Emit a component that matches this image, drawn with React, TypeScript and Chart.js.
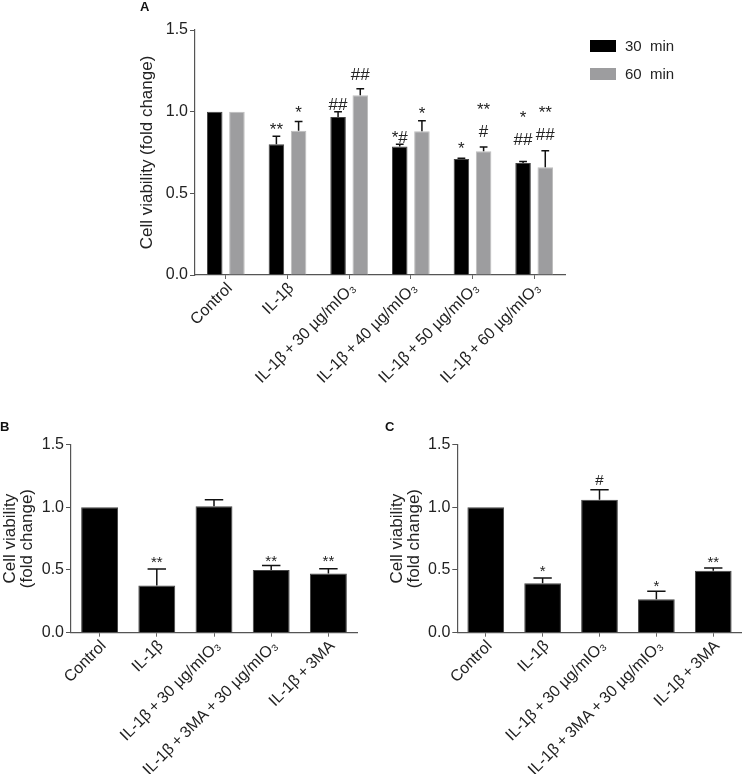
import React, { useEffect, useRef } from 'react';
import { Chart, registerables } from 'chart.js';
Chart.register(...registerables);

const FONT = '"Liberation Sans", Arial, Helvetica, sans-serif';

// ---- Panel A data ----
const catsA = ['Control', 'IL-1β', 'IL-1β\u2009+\u200930 µg/mIO₃', 'IL-1β\u2009+\u200940 µg/mIO₃', 'IL-1β\u2009+\u200950 µg/mIO₃', 'IL-1β\u2009+\u200960 µg/mIO₃'];
const seriesLabelsA = ['30  min', '60  min'];
const a30 = [1.0, 0.8, 0.967, 0.787, 0.71, 0.685];
const a30Err = [0, 0.05, 0.033, 0.013, 0.005, 0.01];
const a30Marks = ['', '**', '##', '*#', '*', '*\n##'];
const a60 = [1.0, 0.883, 1.1, 0.88, 0.757, 0.66];
const a60Err = [0, 0.057, 0.04, 0.065, 0.026, 0.1];
const a60Marks = ['', '*', '##', '*', '**\n#', '**\n##'];

// ---- Panel B data ----
const catsBC = ['Control', 'IL-1β', 'IL-1β\u2009+\u200930 µg/mIO₃', 'IL-1β\u2009+\u20093MA\u2009+\u200930 µg/mIO₃', 'IL-1β\u2009+\u20093MA'];
const bVals = [1.0, 0.376, 1.008, 0.5, 0.472];
const bErr = [0, 0.131, 0.052, 0.036, 0.038];
const bMarks = ['', '**', '', '**', '**'];

// ---- Panel C data ----
const cVals = [1.0, 0.395, 1.06, 0.267, 0.494];
const cErr = [0, 0.04, 0.08, 0.063, 0.021];
const cMarks = ['', '*', '#', '*', '**'];

// y ticks
const yTicks = [0, 0.5, 1.0, 1.5];

// styling: small pixel lifts of significance marks above the error bar tops
const liftA30 = [0, 1, 1.7, 1, 4.5, 16];
const liftA60 = [0, 3, 9, 2, 10, 11];
const liftB = [0, 2.5, 0, -1, 2.5];
const liftC = [0, 2, 5, 0, 1];

function errorMarksPlugin(markFont: number, lineGap: number) {
  return {
    id: 'errorMarks',
    afterDatasetsDraw(chart: any) {
      const ctx = chart.ctx;
      const ys = chart.scales.y;
      chart.data.datasets.forEach((ds: any, i: number) => {
        const meta = chart.getDatasetMeta(i);
        meta.data.forEach((bar: any, j: number) => {
          const v = ds.data[j];
          const e = ds.errors[j];
          const x = bar.x;
          const w = bar.width;
          const yTop = ys.getPixelForValue(v + e);
          if (e > 0) {
            ctx.save();
            ctx.strokeStyle = '#111';
            ctx.lineWidth = 1.5;
            ctx.beginPath();
            ctx.moveTo(x, bar.y);
            ctx.lineTo(x, yTop);
            ctx.moveTo(x - w / 4, yTop);
            ctx.lineTo(x + w / 4, yTop);
            ctx.stroke();
            ctx.restore();
          }
          const mark = ds.marks[j];
          if (mark) {
            ctx.save();
            ctx.fillStyle = '#222';
            ctx.font = `${markFont}px ${FONT}`;
            ctx.textAlign = 'center';
            ctx.textBaseline = 'alphabetic';
            const lines = mark.split('\n');
            let base = yTop - ds.lifts[j];
            for (let k = lines.length - 1; k >= 0; k--) {
              ctx.fillText(lines[k], x, base);
              base -= lineGap;
            }
            ctx.restore();
          }
        });
      });
    },
  };
}

const legendPlugin = {
  id: 'customLegend',
  afterDraw(chart: any) {
    const ctx = chart.ctx;
    const ca = chart.chartArea;
    chart.data.datasets.forEach((ds: any, i: number) => {
      const bx = ca.right + 25;
      const by = 40 + i * 28;
      ctx.save();
      ctx.fillStyle = ds.legendColor;
      ctx.fillRect(bx, by, 26, 12);
      ctx.fillStyle = '#222';
      ctx.font = `15px ${FONT}`;
      ctx.textAlign = 'left';
      ctx.textBaseline = 'middle';
      ctx.fillText(ds.label, bx + 35, by + 6.5);
      ctx.restore();
    });
  },
};

function makeScales(opts: {
  yWidth: number;
  xHeight: number;
  titleLines: string | string[];
  titlePad: number;
  titleLineHeight: number;
}) {
  return {
    x: {
      grid: { drawOnChartArea: false, offset: false, tickLength: 4, color: '#666', lineWidth: 1 },
      border: { display: true, color: '#555', width: 1.2 },
      ticks: {
        autoSkip: false,
        maxRotation: 45,
        minRotation: 45,
        padding: 0,
        labelOffset: 4,
        color: '#222',
        font: { family: FONT, size: 16 },
      },
      afterFit(scale: any) {
        scale.height = opts.xHeight;
      },
    },
    y: {
      min: 0,
      max: 1.5,
      afterBuildTicks(scale: any) {
        scale.ticks = yTicks.map((v) => ({ value: v }));
      },
      grid: { drawOnChartArea: false, tickLength: 5, color: '#555', lineWidth: 1 },
      border: { display: true, color: '#555', width: 1.2 },
      ticks: {
        padding: 2,
        color: '#222',
        font: { family: FONT, size: 16 },
        callback: (v: any) => Number(v).toFixed(1),
      },
      title: {
        display: true,
        text: opts.titleLines,
        color: '#222',
        font: { family: FONT, size: 17, lineHeight: opts.titleLineHeight },
        padding: { top: opts.titlePad, bottom: 0 },
      },
      afterFit(scale: any) {
        scale.width = opts.yWidth;
      },
    },
  };
}

function configA() {
  return {
    type: 'bar',
    data: {
      labels: catsA,
      datasets: [
        {
          label: seriesLabelsA[0],
          data: a30,
          errors: a30Err,
          marks: a30Marks,
          lifts: liftA30,
          backgroundColor: '#000',
          borderColor: '#444',
          borderWidth: 1,
          legendColor: '#000',
          categoryPercentage: 0.72,
          barPercentage: 0.7,
        },
        {
          label: seriesLabelsA[1],
          data: a60,
          errors: a60Err,
          marks: a60Marks,
          lifts: liftA60,
          backgroundColor: '#9d9d9f',
          borderColor: '#bdbdbd',
          borderWidth: 1,
          legendColor: '#9d9d9f',
          categoryPercentage: 0.72,
          barPercentage: 0.7,
        },
      ],
    },
    options: {
      responsive: false,
      animation: false,
      layout: { padding: { left: 130, top: 30, right: 179, bottom: 0 } },
      plugins: { legend: { display: false }, tooltip: { enabled: false } },
      scales: makeScales({ yWidth: 65, xHeight: 165, titleLines: 'Cell viability (fold change)', titlePad: 7.3, titleLineHeight: 1.2 }),
    },
    plugins: [errorMarksPlugin(17, 22), legendPlugin],
  } as any;
}

function configSingle(vals: number[], errs: number[], marks: string[], lifts: number[], yWidth: number, titlePad: number, right: number) {
  return {
    type: 'bar',
    data: {
      labels: catsBC,
      datasets: [
        {
          label: 'Cell viability',
          data: vals,
          errors: errs,
          marks,
          lifts,
          backgroundColor: '#000',
          borderColor: '#444',
          borderWidth: 1,
          categoryPercentage: 1,
          barPercentage: 0.645,
        },
      ],
    },
    options: {
      responsive: false,
      animation: false,
      layout: { padding: { left: 0, top: 24.5, right, bottom: 0 } },
      plugins: { legend: { display: false }, tooltip: { enabled: false } },
      scales: makeScales({ yWidth, xHeight: 141.3, titleLines: ['Cell viability', '(fold change)'], titlePad, titleLineHeight: 1.0 }),
    },
    plugins: [errorMarksPlugin(15, 18)],
  } as any;
}

function ChartCanvas(props: { make: () => any; left: number; top: number; width: number; height: number }) {
  const ref = useRef<HTMLCanvasElement | null>(null);
  useEffect(() => {
    const chart = new Chart(ref.current as HTMLCanvasElement, props.make());
    return () => chart.destroy();
  }, []);
  return (
    <canvas
      ref={ref}
      width={props.width}
      height={props.height}
      style={{ position: 'absolute', left: props.left, top: props.top, width: props.width, height: props.height }}
    />
  );
}

const letterStyle = (left: number, top: number): React.CSSProperties => ({
  position: 'absolute',
  left,
  top,
  fontFamily: FONT,
  fontWeight: 'bold',
  fontSize: 13,
  lineHeight: '13px',
  color: '#111',
});

export default function App() {
  return (
    <div style={{ position: 'absolute', left: 0, top: 0, width: 744, height: 774, background: '#fff', overflow: 'hidden' }}>
      <ChartCanvas make={configA} left={0} top={0} width={744} height={440} />
      <ChartCanvas
        make={() => configSingle(bVals, bErr, bMarks, liftB, 71, 1.5, 15)}
        left={0}
        top={420}
        width={372}
        height={354}
      />
      <ChartCanvas
        make={() => configSingle(cVals, cErr, cMarks, liftC, 85.3, 17, 2.3)}
        left={372}
        top={420}
        width={372}
        height={354}
      />
      <div style={letterStyle(140, 0)}>A</div>
      <div style={letterStyle(0, 420)}>B</div>
      <div style={letterStyle(385, 420)}>C</div>
    </div>
  );
}
